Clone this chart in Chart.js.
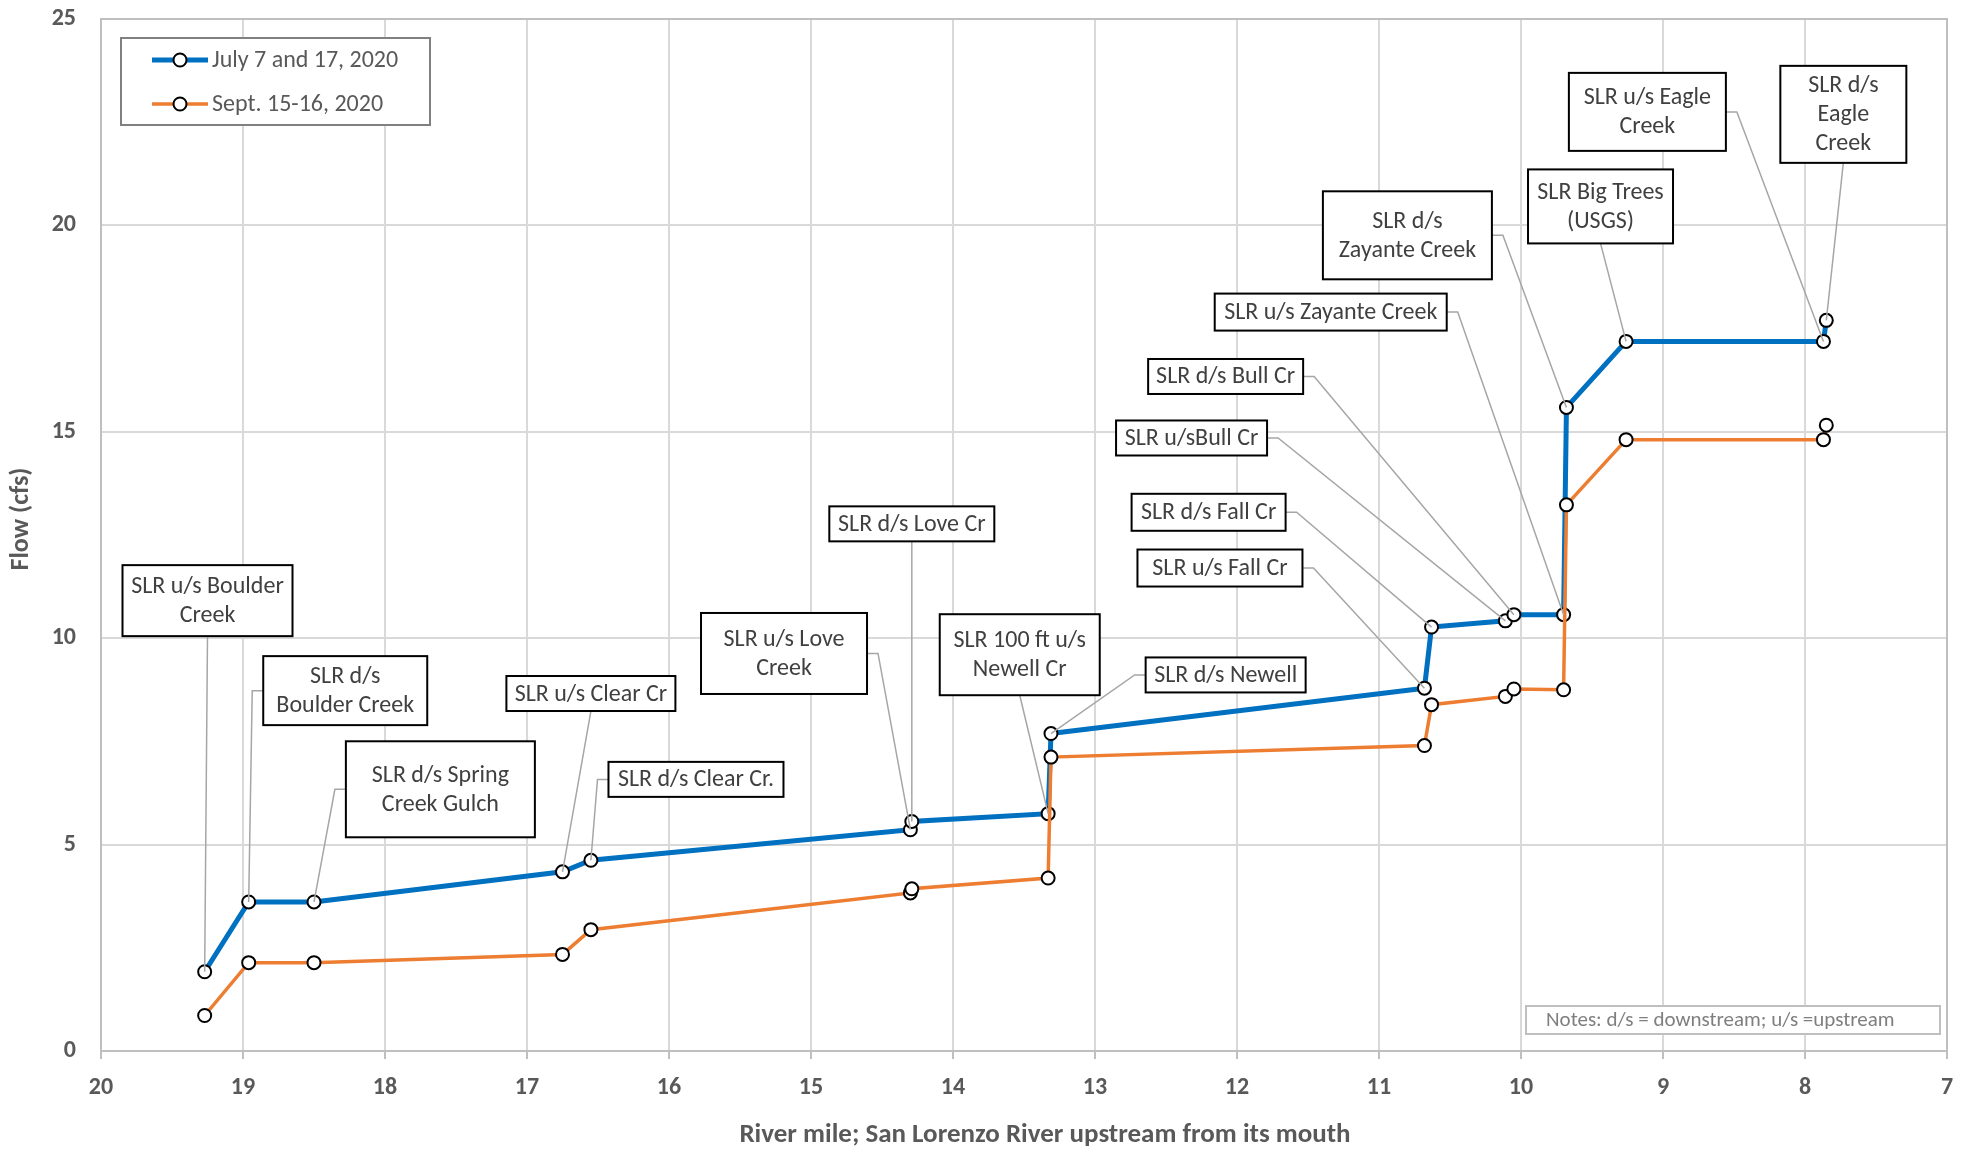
<!DOCTYPE html>
<html>
<head>
  <meta http-equiv="content-type" content="text/html; charset=UTF-8" />
  <title>San Lorenzo River flow</title>
  <script src="https://cdn.jsdelivr.net/npm/chart.js@4.4.0/dist/chart.umd.min.js"></script>
  <style>
    body { margin: 0; background: #fff; }
  </style>
</head>
<body>
  <canvas id="canvas" width="1975" height="1150"></canvas>
  <script>
    "use strict";

    // river mile of each site (same for both surveys)
    const riverMile = [19.27, 18.96, 18.50, 16.75, 16.55, 14.30, 14.29, 13.33, 13.31,
                       10.68, 10.63, 10.11, 10.05, 9.70, 9.68, 9.26, 7.87, 7.85];
    const julyFlow = [1.92, 3.61, 3.61, 4.34, 4.62, 5.36, 5.56, 5.75, 7.69,
                      8.79, 10.27, 10.42, 10.57, 10.57, 15.59, 17.19, 17.19, 17.70];
    const septFlow = [0.86, 2.14, 2.14, 2.34, 2.94, 3.83, 3.93, 4.19, 7.12,
                      7.40, 8.39, 8.59, 8.77, 8.75, 13.23, 14.81, 14.81, 15.16];
    const seriesNames = ['July 7 and 17, 2020', 'Sept. 15-16, 2020'];
    const siteNames = [
      'SLR u/s Boulder\nCreek', 'SLR d/s\nBoulder Creek', 'SLR d/s Spring\nCreek Gulch',
      'SLR u/s Clear Cr', 'SLR d/s Clear Cr.', 'SLR u/s Love\nCreek', 'SLR d/s Love Cr',
      'SLR 100 ft u/s\nNewell Cr', 'SLR d/s Newell', 'SLR u/s Fall Cr', 'SLR d/s Fall Cr',
      'SLR u/sBull Cr', 'SLR d/s Bull Cr', 'SLR u/s Zayante Creek', 'SLR d/s\nZayante Creek',
      'SLR Big Trees\n(USGS)', 'SLR u/s Eagle\nCreek', 'SLR d/s\nEagle\nCreek'
    ];
    const noteText = 'Notes: d/s = downstream; u/s =upstream';
    const xTitle = 'River mile; San Lorenzo River upstream from its mouth';
    const yTitle = 'Flow (cfs)';

    // callout box centres (in axis units) and box size in px
    const calloutLayout = [
      {x: 19.25, y: 10.91, w: 170, h: 71}, {x: 18.28, y: 8.73, w: 164, h: 69},
      {x: 17.61, y: 6.34, w: 189, h: 96},  {x: 16.55, y: 8.66, w: 169, h: 35},
      {x: 15.81, y: 6.58, w: 175, h: 35},  {x: 15.19, y: 9.63, w: 166, h: 81},
      {x: 14.29, y: 12.77, w: 165, h: 35}, {x: 13.53, y: 9.60, w: 160, h: 81},
      {x: 12.08, y: 9.11, w: 160, h: 35},  {x: 12.12, y: 11.70, w: 165, h: 37},
      {x: 12.20, y: 13.05, w: 154, h: 37}, {x: 12.32, y: 14.85, w: 151, h: 35},
      {x: 12.08, y: 16.34, w: 155, h: 35}, {x: 11.34, y: 17.90, w: 232, h: 37},
      {x: 10.80, y: 19.76, w: 169, h: 88}, {x: 9.44, y: 20.46, w: 145, h: 74},
      {x: 9.11, y: 22.75, w: 157, h: 78},  {x: 7.73, y: 22.69, w: 126, h: 97}
    ];

    const FONT = 'Carlito, Lato, sans-serif';
    Chart.defaults.font.family = FONT;

    const toPoints = ys => ys.map((v, i) => ({x: riverMile[i], y: v}));

    const framePlugin = {
      id: 'frame',
      beforeDatasetsDraw(chart) {
        const {ctx, chartArea: a} = chart;
        ctx.save();
        ctx.strokeStyle = '#bfbfbf';
        ctx.lineWidth = 2;
        ctx.beginPath();
        ctx.moveTo(a.left, a.top);
        ctx.lineTo(a.right, a.top);
        ctx.lineTo(a.right, a.bottom);
        ctx.stroke();
        ctx.restore();
      }
    };

    // axis titles sit a little off the centre of the plot in the original
    const titlePlugin = {
      id: 'axisTitles',
      afterDraw(chart) {
        const {ctx, chartArea: a} = chart;
        ctx.save();
        ctx.fillStyle = '#595959';
        ctx.textAlign = 'center';
        ctx.textBaseline = 'middle';
        ctx.font = 'bold 27px ' + FONT;
        ctx.fillText(xTitle, (a.left + a.right) / 2 + 21, 1135);
        ctx.translate(21, (a.top + a.bottom) / 2 - 16);
        ctx.rotate(-Math.PI / 2);
        ctx.font = 'bold 26px ' + FONT;
        ctx.fillText(yTitle, 0, 0);
        ctx.restore();
      }
    };

    const calloutPlugin = {
      id: 'callouts',
      afterDatasetsDraw(chart) {
        const {ctx} = chart;
        const xs = chart.scales.x, ys = chart.scales.y;
        const meta = chart.getDatasetMeta(0);
        ctx.save();
        ctx.font = '24px ' + FONT;
        ctx.textAlign = 'center';
        ctx.textBaseline = 'middle';
        siteNames.forEach((name, i) => {
          const box = calloutLayout[i];
          const cx = xs.getPixelForValue(box.x), cy = ys.getPixelForValue(box.y);
          const l = cx - box.w / 2, r = cx + box.w / 2, t = cy - box.h / 2, b = cy + box.h / 2;
          const pt = meta.data[i];
          ctx.strokeStyle = '#a6a6a6';
          ctx.lineWidth = 1.5;
          ctx.beginPath();
          if (pt.x >= l && pt.x <= r) {
            ctx.moveTo(cx, pt.y > b ? b : t);
          } else if (pt.x < l) {
            ctx.moveTo(l, cy); ctx.lineTo(l - 11, cy);
          } else {
            ctx.moveTo(r, cy); ctx.lineTo(r + 11, cy);
          }
          ctx.lineTo(pt.x, pt.y);
          ctx.stroke();

          ctx.fillStyle = '#fff';
          ctx.fillRect(l, t, box.w, box.h);
          ctx.strokeStyle = '#000';
          ctx.lineWidth = 2;
          ctx.strokeRect(l, t, box.w, box.h);

          const lines = name.split('\n');
          ctx.fillStyle = '#404040';
          lines.forEach((ln, k) => ctx.fillText(ln, cx, cy + 1 + (k - (lines.length - 1) / 2) * 29));
        });
        ctx.restore();
      }
    };

    const legendPlugin = {
      id: 'boxLegend',
      afterDraw(chart) {
        const {ctx, chartArea: a} = chart;
        const bx = a.left + 20, by = a.top + 19, bw = 309, bh = 87;
        ctx.save();
        ctx.fillStyle = '#fff';
        ctx.fillRect(bx, by, bw, bh);
        ctx.strokeStyle = '#808080';
        ctx.lineWidth = 2;
        ctx.strokeRect(bx, by, bw, bh);
        ctx.font = '24px ' + FONT;
        ctx.textBaseline = 'middle';
        chart.data.datasets.forEach((ds, i) => {
          const yy = by + 22 + i * 44;
          ctx.strokeStyle = ds.borderColor;
          ctx.lineWidth = ds.borderWidth;
          ctx.beginPath();
          ctx.moveTo(bx + 31, yy);
          ctx.lineTo(bx + 87, yy);
          ctx.stroke();
          ctx.beginPath();
          ctx.arc(bx + 59, yy, 6.5, 0, Math.PI * 2);
          ctx.fillStyle = '#fff';
          ctx.fill();
          ctx.strokeStyle = '#000';
          ctx.lineWidth = 2;
          ctx.stroke();
          ctx.fillStyle = '#595959';
          ctx.fillText(ds.label, bx + 91, yy + 1);
        });

        // note box, bottom right
        const nw = 414, nh = 28, nx = a.right - 7 - nw, ny = a.bottom - 17 - nh;
        ctx.fillStyle = '#fff';
        ctx.fillRect(nx, ny, nw, nh);
        ctx.strokeStyle = '#bfbfbf';
        ctx.lineWidth = 2;
        ctx.strokeRect(nx, ny, nw, nh);
        ctx.font = '21px ' + FONT;
        ctx.fillStyle = '#7f7f7f';
        ctx.fillText(noteText, nx + 20, ny + nh / 2 + 1);
        ctx.restore();
      }
    };

    const markerStyle = {
      pointRadius: 6.5,
      pointBackgroundColor: '#fff',
      pointBorderColor: '#000',
      pointBorderWidth: 2
    };

    new Chart(document.getElementById('canvas').getContext('2d'), {
      type: 'line',
      data: {
        datasets: [Object.assign({
          label: seriesNames[0],
          data: toPoints(julyFlow),
          borderColor: '#0070C0',
          borderWidth: 5,
          order: 2
        }, markerStyle), Object.assign({
          label: seriesNames[1],
          data: toPoints(septFlow),
          borderColor: '#ED7D31',
          borderWidth: 3.5,
          order: 1
        }, markerStyle)]
      },
      options: {
        responsive: false,
        devicePixelRatio: 1,
        animation: false,
        elements: { line: { tension: 0 } },
        layout: { padding: { top: 19, right: 28, left: 0, bottom: 0 } },
        plugins: {
          legend: { display: false },
          tooltip: { enabled: false }
        },
        scales: {
          x: {
            type: 'linear',
            reverse: true,
            min: 7,
            max: 20,
            afterFit: s => { s.height = 99; s.paddingLeft = 0; s.paddingRight = 0; },
            ticks: { stepSize: 1, padding: 15, color: '#595959', font: { size: 24, weight: 'bold' } },
            grid: { color: '#d9d9d9', lineWidth: 2, tickLength: 8, tickColor: '#bfbfbf' },
            border: { color: '#bfbfbf', width: 2 },
            title: { display: false }
          },
          y: {
            min: 0,
            max: 25,
            afterFit: s => { s.width = 101; s.paddingTop = 0; s.paddingBottom = 0; },
            ticks: { stepSize: 5, padding: 25, color: '#595959', font: { size: 24, weight: 'bold' } },
            grid: { color: '#d9d9d9', lineWidth: 2, drawTicks: false },
            border: { color: '#bfbfbf', width: 2 },
            title: { display: false }
          }
        }
      },
      plugins: [framePlugin, calloutPlugin, legendPlugin, titlePlugin]
    });
  </script>
</body>
</html>
